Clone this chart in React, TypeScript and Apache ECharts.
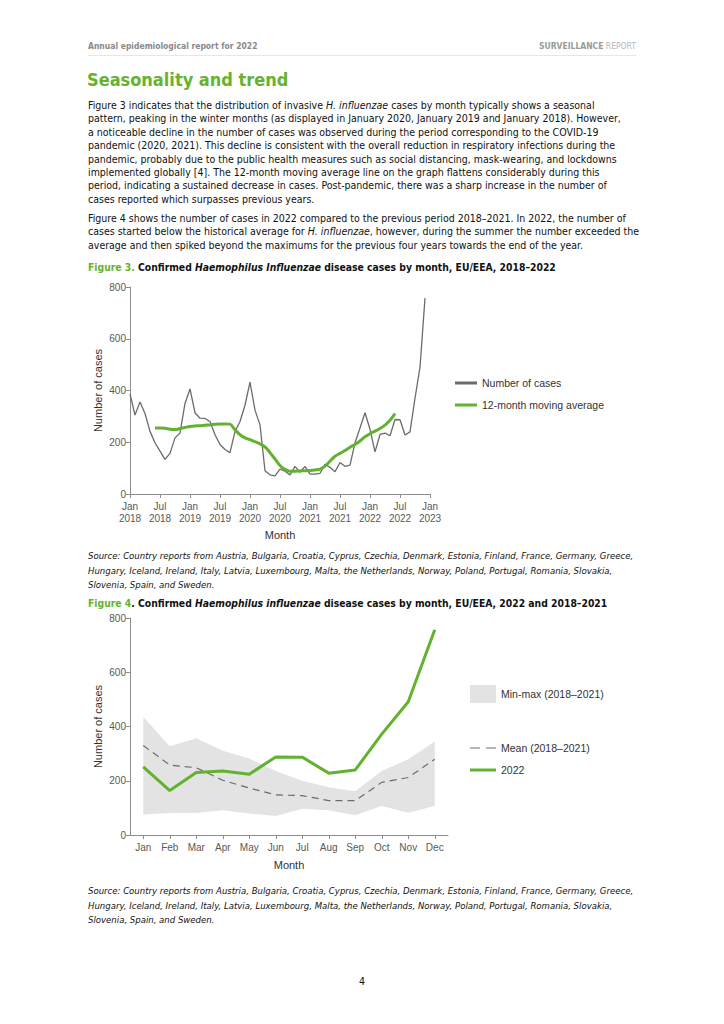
import React, { useEffect, useRef } from "react";
import * as echarts from "echarts";

// ---------- DATA ----------
// Figure 3: monthly cases Jan 2018 .. Dec 2022 (index 0 = Jan 2018)
const cases2018 = [387, 305, 356, 311, 242, 198, 166, 134, 157, 217, 236, 350];
const cases2019 = [406, 314, 293, 292, 280, 229, 191, 172, 160, 242, 280, 343];
const cases2020 = [432, 324, 267, 90, 74, 70, 96, 88, 74, 107, 84, 107];
const cases2021 = [77, 77, 80, 115, 103, 86, 122, 107, 112, 198, 255, 314];
const cases2022fig3 = [250, 163, 230, 235, 225, 288, 287, 228, 240, 370, 490, 757];
const monthlyCases = [...cases2018, ...cases2019, ...cases2020, ...cases2021, ...cases2022fig3];

// 12-month moving average, first value at index 5 (Jun 2018), last at index 53 (Jun 2022)
const maStartIndex = 5;
const movingAverage = [
  255, 255, 254, 250, 249, 253, 257, 261, 263, 264, 266, 267, 270, 271, 271, 270,
  248, 229, 217, 210, 202, 194, 182, 160, 135, 110, 95, 88, 88, 89, 90, 91, 93, 96,
  108, 127, 146, 157, 168, 181, 191, 205, 221, 233, 243, 253, 266, 285, 311,
];
const fig3TickMonths = ["Jan", "Jul"];
const fig3FirstYear = 2018;

// Figure 4
const monthNames = ["Jan", "Feb", "Mar", "Apr", "May", "Jun", "Jul", "Aug", "Sep", "Oct", "Nov", "Dec"];
const histMin = [76, 81, 81, 91, 79, 70, 97, 91, 73, 107, 82, 107];
const histMax = [436, 327, 357, 311, 282, 236, 200, 176, 161, 236, 279, 345];
const histMean = [330, 258, 248, 202, 173, 148, 145, 127, 127, 194, 212, 279];
const cases2022 = [251, 164, 230, 236, 224, 288, 287, 228, 240, 372, 491, 757];

// ---------- STYLE ----------
const GREEN = "#62b22f";
const GREY_LINE = "#6b6b6b";
const BAND = "#e3e3e3";
const AXIS = "#8c8c8c";
const TICK_TXT = "#595959";
const CHART_FONT = '"Liberation Sans", Arial, sans-serif';
const BODY_FONT = '"DejaVu Sans Condensed", "DejaVu Sans", Verdana, sans-serif';
const DASH_ICON = "path://M0,0h8v1h-8z M13,0h8v1h-8z";

function useChart(option: any) {
  const ref = useRef<HTMLDivElement>(null);
  useEffect(() => {
    if (!ref.current) return;
    const chart = echarts.init(ref.current, undefined, { renderer: "svg" });
    chart.setOption(option);
    return () => chart.dispose();
  }, []);
  return ref;
}

const legendText = { color: "#333", fontSize: 10.5, lineHeight: 12, fontFamily: CHART_FONT };

function legendItem(name: string, left: number, top: number, w: number, h: number, icon: string, color: string) {
  return {
    left,
    top,
    padding: 0,
    itemWidth: w,
    itemHeight: h,
    selectedMode: false,
    textStyle: legendText,
    itemStyle: { borderWidth: 0 },
    data: [{ name, icon, itemStyle: { color, borderWidth: 0 } }],
  };
}

const yAxisCommon = {
  type: "value",
  min: 0,
  max: 800,
  interval: 200,
  axisLine: { show: true, lineStyle: { color: AXIS, width: 1 } },
  axisTick: { show: true, length: 4, lineStyle: { color: AXIS } },
  axisLabel: { color: TICK_TXT, fontSize: 10, margin: 4, fontFamily: CHART_FONT },
  splitLine: { show: false },
  name: "Number of cases",
  nameLocation: "middle",
  nameGap: 27,
  nameRotate: 90,
  nameTextStyle: { color: "#333", fontSize: 11, fontFamily: CHART_FONT },
};

function Figure3() {
  const maData = movingAverage.map((v, i) => [maStartIndex + i, v]);
  const caseData = monthlyCases.map((v, i) => [i, v]);
  const option = {
    animation: false,
    textStyle: { fontFamily: CHART_FONT },
    grid: { left: 130, top: 17, width: 300, height: 208 },
    xAxis: {
      type: "value",
      min: 0,
      max: 60,
      interval: 6,
      axisLine: { show: true, lineStyle: { color: AXIS } },
      axisTick: { show: true, length: 4, lineStyle: { color: AXIS } },
      axisLabel: {
        color: TICK_TXT,
        fontSize: 10,
        lineHeight: 12,
        margin: 6,
        fontFamily: CHART_FONT,
        formatter: (v: number) =>
          fig3TickMonths[(v / 6) % 2] + "\n" + (fig3FirstYear + Math.floor(v / 12)),
      },
      splitLine: { show: false },
      name: "Month",
      nameLocation: "middle",
      nameGap: 35,
      nameTextStyle: { color: "#333", fontSize: 11, fontFamily: CHART_FONT },
    },
    yAxis: yAxisCommon,
    legend: [
      legendItem("Number of cases", 455, 107, 22, 3, "rect", GREY_LINE),
      legendItem("12-month moving average", 455, 129, 22, 3, "rect", GREEN),
    ],
    series: [
      {
        name: "Number of cases",
        type: "line",
        data: caseData,
        symbol: "none",
        color: GREY_LINE,
        lineStyle: { color: GREY_LINE, width: 1.3 },
      },
      {
        name: "12-month moving average",
        type: "line",
        data: maData,
        symbol: "none",
        smooth: 0.3,
        color: GREEN,
        lineStyle: { color: GREEN, width: 3 },
      },
    ],
  };
  const ref = useChart(option);
  return <div ref={ref} style={{ position: "absolute", left: 0, top: 270, width: 724, height: 275 }} />;
}

function Figure4() {
  const range = histMax.map((v, i) => v - histMin[i]);
  const option = {
    animation: false,
    textStyle: { fontFamily: CHART_FONT },
    grid: { left: 130, top: 13, width: 318, height: 220 },
    xAxis: {
      type: "category",
      data: monthNames,
      boundaryGap: true,
      axisLine: { show: true, lineStyle: { color: AXIS } },
      axisTick: { show: true, alignWithLabel: true, length: 4, lineStyle: { color: AXIS } },
      axisLabel: { color: TICK_TXT, fontSize: 10, margin: 7, fontFamily: CHART_FONT },
      name: "Month",
      nameLocation: "middle",
      nameGap: 24,
      nameTextStyle: { color: "#333", fontSize: 11, fontFamily: CHART_FONT },
    },
    yAxis: yAxisCommon,
    legend: [
      legendItem("Min-max (2018–2021)", 470, 80, 26, 18, "rect", BAND),
      legendItem("Mean (2018–2021)", 470, 137, 26, 1.3, DASH_ICON, GREY_LINE),
      legendItem("2022", 470, 159, 26, 3, "rect", GREEN),
    ],
    series: [
      {
        name: "min",
        type: "line",
        stack: "band",
        data: histMin,
        symbol: "none",
        silent: true,
        lineStyle: { opacity: 0 },
      },
      {
        name: "Min-max (2018–2021)",
        type: "line",
        stack: "band",
        data: range,
        symbol: "none",
        silent: true,
        color: BAND,
        lineStyle: { opacity: 0 },
        areaStyle: { color: BAND, opacity: 1 },
      },
      {
        name: "Mean (2018–2021)",
        type: "line",
        data: histMean,
        symbol: "none",
        color: GREY_LINE,
        lineStyle: { color: GREY_LINE, width: 1.2, type: [7, 5] },
      },
      {
        name: "2022",
        type: "line",
        data: cases2022,
        symbol: "none",
        color: GREEN,
        lineStyle: { color: GREEN, width: 3 },
      },
    ],
  };
  const ref = useChart(option);
  return <div ref={ref} style={{ position: "absolute", left: 0, top: 605, width: 724, height: 270 }} />;
}

function TextLine(props: { y: number; children: any; style?: any }) {
  return (
    <div
      style={{
        position: "absolute",
        left: 88,
        top: props.y - 8,
        height: 16,
        lineHeight: "16px",
        whiteSpace: "nowrap",
        ...props.style,
      }}
    >
      {props.children}
    </div>
  );
}

const para1 = [
  <>Figure 3 indicates that the distribution of invasive <i>H. influenzae</i> cases by month typically shows a seasonal</>,
  <>pattern, peaking in the winter months (as displayed in January 2020, January 2019 and January 2018). However,</>,
  <>a noticeable decline in the number of cases was observed during the period corresponding to the COVID-19</>,
  <>pandemic (2020, 2021). This decline is consistent with the overall reduction in respiratory infections during the</>,
  <>pandemic, probably due to the public health measures such as social distancing, mask-wearing, and lockdowns</>,
  <>implemented globally [4]. The 12-month moving average line on the graph flattens considerably during this</>,
  <>period, indicating a sustained decrease in cases. Post-pandemic, there was a sharp increase in the number of</>,
  <>cases reported which surpasses previous years.</>,
];
const para2 = [
  <>Figure 4 shows the number of cases in 2022 compared to the previous period 2018–2021. In 2022, the number of</>,
  <>cases started below the historical average for <i>H. influenzae</i>, however, during the summer the number exceeded the</>,
  <>average and then spiked beyond the maximums for the previous four years towards the end of the year.</>,
];
const sourceLines = [
  "Source: Country reports from Austria, Bulgaria, Croatia, Cyprus, Czechia, Denmark, Estonia, Finland, France, Germany, Greece,",
  "Hungary, Iceland, Ireland, Italy, Latvia, Luxembourg, Malta, the Netherlands, Norway, Poland, Portugal, Romania, Slovakia,",
  "Slovenia, Spain, and Sweden.",
];

export default function App() {
  const body = { fontSize: 10.5, color: "#111" };
  const src = { fontSize: 9.5, fontStyle: "italic", color: "#111" };
  const figTitle = { fontSize: 10.3, fontWeight: "bold", color: "#111" };
  const LH = 13.4;
  return (
    <div
      style={{
        position: "absolute",
        left: 0,
        top: 0,
        width: 724,
        height: 1024,
        background: "#fff",
        fontFamily: BODY_FONT,
        overflow: "hidden",
      }}
    >
      {/* header */}
      <TextLine y={46} style={{ fontSize: 8.5, fontWeight: "bold", color: "#8a8a8a" }}>
        Annual epidemiological report for 2022
      </TextLine>
      <div
        style={{
          position: "absolute",
          right: 724 - 636,
          top: 38,
          height: 16,
          lineHeight: "16px",
          fontSize: 8.5,
          whiteSpace: "nowrap",
          color: "#b5b5b5",
        }}
      >
        <span style={{ fontWeight: "bold", color: "#9a9a9a" }}>SURVEILLANCE</span> REPORT
      </div>
      <div style={{ position: "absolute", left: 88, top: 55, width: 548, height: 1, background: "#e6e6e6" }} />

      {/* heading */}
      <div
        style={{
          position: "absolute",
          left: 87,
          top: 67,
          height: 26,
          lineHeight: "26px",
          fontSize: 18,
          fontWeight: "bold",
          color: "#65b32e",
          whiteSpace: "nowrap",
        }}
      >
        Seasonality and trend
      </div>

      {para1.map((l, i) => (
        <TextLine key={"p1" + i} y={105 + i * LH} style={body}>
          {l}
        </TextLine>
      ))}
      {para2.map((l, i) => (
        <TextLine key={"p2" + i} y={218 + i * LH} style={body}>
          {l}
        </TextLine>
      ))}

      <TextLine y={267} style={figTitle}>
        <span style={{ color: "#65b32e" }}>Figure 3.</span> Confirmed <i>Haemophilus Influenzae</i> disease cases by month, EU/EEA, 2018–2022
      </TextLine>

      <Figure3 />

      {sourceLines.map((l, i) => (
        <TextLine key={"s1" + i} y={556 + i * 14.5} style={src}>
          {l}
        </TextLine>
      ))}

      <TextLine y={603} style={figTitle}>
        <span style={{ color: "#65b32e" }}>Figure 4</span>. Confirmed <i>Haemophilus influenzae</i> disease cases by month, EU/EEA, 2022 and 2018–2021
      </TextLine>

      <Figure4 />

      {sourceLines.map((l, i) => (
        <TextLine key={"s2" + i} y={891 + i * 14.5} style={src}>
          {l}
        </TextLine>
      ))}

      <div
        style={{
          position: "absolute",
          left: 352,
          width: 20,
          textAlign: "center",
          top: 973,
          height: 16,
          lineHeight: "16px",
          fontSize: 10.5,
          color: "#111",
        }}
      >
        4
      </div>
    </div>
  );
}
